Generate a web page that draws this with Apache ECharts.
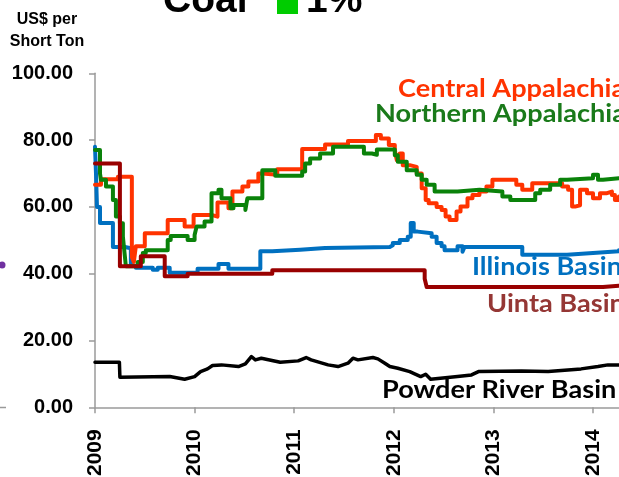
<!DOCTYPE html>
<html>
<head>
<meta charset="utf-8">
<script src="https://cdn.jsdelivr.net/npm/echarts@6/dist/echarts.min.js"></script>
<style>
  html, body { margin: 0; padding: 0; background: #ffffff; }
  #chart { width: 619px; height: 477px; }
</style>
</head>
<body>
<div id="chart"></div>
<script>
// Weekly spot coal prices, US$ per short ton.
// Each pair is [time in fractional years, price that holds from that week on].
const centralAppalachia = [
  [2009.00, 66.6], [2009.06, 68.3], [2009.23, 69.0], [2009.37, 45.0], [2009.39, 43.5],
  [2009.41, 48.2], [2009.50, 52.1], [2009.73, 56.1], [2009.90, 54.1], [2009.99, 57.6],
  [2010.17, 57.1], [2010.23, 61.3], [2010.34, 59.6], [2010.38, 64.6], [2010.48, 66.1],
  [2010.54, 67.6], [2010.64, 70.0], [2010.68, 69.6], [2010.83, 71.3], [2011.08, 77.3],
  [2011.31, 78.7], [2011.54, 79.7], [2011.82, 81.5], [2011.87, 80.5], [2011.95, 78.5],
  [2012.01, 77.0], [2012.03, 74.0], [2012.06, 76.0], [2012.09, 72.5], [2012.16, 72.0],
  [2012.23, 70.0], [2012.28, 65.6], [2012.32, 62.1], [2012.35, 61.1], [2012.43, 60.0],
  [2012.48, 59.1], [2012.52, 57.1], [2012.56, 56.1], [2012.63, 58.6], [2012.67, 60.1],
  [2012.74, 62.6], [2012.79, 63.6], [2012.86, 64.6], [2012.93, 66.1], [2012.99, 68.1],
  [2013.23, 66.6], [2013.29, 65.1], [2013.39, 67.1], [2013.69, 66.1], [2013.75, 65.1],
  [2013.79, 60.1], [2013.82, 60.5], [2013.87, 65.1], [2013.94, 64.1], [2014.00, 62.6],
  [2014.07, 64.1], [2014.14, 64.6], [2014.19, 63.6], [2014.22, 62.1], [2014.26, 63.1]
];

const northernAppalachia = [
  [2009.00, 77.0], [2009.05, 70.0], [2009.06, 68.1], [2009.11, 66.1], [2009.18, 62.1],
  [2009.21, 57.1], [2009.25, 55.1], [2009.28, 51.1], [2009.30, 45.2], [2009.31, 42.2],
  [2009.43, 43.5], [2009.48, 46.2], [2009.51, 47.0], [2009.73, 50.1], [2009.76, 51.3],
  [2009.93, 50.1], [2010.00, 51.6], [2010.02, 54.1], [2010.10, 55.6], [2010.17, 64.1],
  [2010.24, 65.1], [2010.27, 62.6], [2010.36, 59.6], [2010.39, 60.6], [2010.51, 59.1],
  [2010.53, 62.6], [2010.68, 71.0], [2010.81, 69.3], [2011.08, 70.6], [2011.11, 73.0],
  [2011.16, 74.5], [2011.26, 76.0], [2011.39, 78.0], [2011.70, 76.0], [2011.78, 75.6],
  [2011.83, 77.2], [2012.01, 75.5], [2012.04, 73.5], [2012.13, 71.0], [2012.23, 69.6],
  [2012.28, 68.1], [2012.33, 66.6], [2012.41, 64.6], [2012.64, 65.1], [2012.86, 64.6],
  [2013.09, 63.1], [2013.17, 62.1], [2013.42, 64.1], [2013.47, 65.1], [2013.57, 66.6],
  [2013.67, 68.1], [2013.74, 68.6], [2014.00, 69.6], [2014.05, 68.1], [2014.10, 68.6],
  [2014.26, 68.6]
];

const illinoisBasin = [
  [2009.00, 78.0], [2009.01, 70.0], [2009.02, 60.0], [2009.05, 55.2], [2009.18, 48.0],
  [2009.30, 47.6], [2009.36, 42.4], [2009.41, 41.8], [2009.58, 41.2], [2009.63, 41.8],
  [2009.75, 40.3], [2010.03, 41.5], [2010.24, 42.9], [2010.34, 41.5], [2010.66, 46.7],
  [2010.78, 47.2], [2011.06, 47.7], [2011.31, 48.0], [2011.96, 48.5], [2011.99, 49.2],
  [2012.06, 50.1], [2012.14, 51.1], [2012.17, 55.2], [2012.20, 52.6], [2012.24, 52.1],
  [2012.38, 51.1], [2012.43, 49.2], [2012.48, 48.2], [2012.51, 47.0], [2012.64, 48.2],
  [2012.69, 46.6], [2012.71, 48.0], [2013.29, 45.7], [2013.74, 46.2], [2014.00, 46.7],
  [2014.26, 47.0]
];

const uintaBasin = [
  [2009.00, 73.0], [2009.25, 42.2], [2009.46, 45.2], [2009.70, 39.2], [2009.93, 40.0],
  [2010.78, 41.0], [2012.31, 38.5], [2012.33, 36.0], [2014.10, 36.4], [2014.26, 36.4]
];

const powderRiverBasin = [
  [2009.00, 13.5], [2009.245, 13.5], [2009.25, 9.0], [2009.75, 9.2], [2009.90, 8.4],
  [2010.00, 9.2], [2010.06, 10.7], [2010.13, 11.5], [2010.18, 12.5], [2010.27, 12.7],
  [2010.44, 12.2], [2010.51, 13.0], [2010.57, 15.2], [2010.61, 14.2], [2010.67, 14.7],
  [2010.86, 13.5], [2011.04, 13.9], [2011.12, 14.9], [2011.17, 14.2], [2011.34, 12.7],
  [2011.44, 12.2], [2011.54, 13.2], [2011.59, 14.7], [2011.64, 14.2], [2011.79, 14.9],
  [2011.84, 14.5], [2011.91, 13.2], [2011.96, 12.2], [2012.04, 11.7], [2012.16, 10.7],
  [2012.27, 9.2], [2012.32, 9.9], [2012.37, 8.4], [2012.64, 9.2], [2012.78, 9.7],
  [2012.85, 10.7], [2013.28, 10.9], [2013.55, 10.7], [2013.88, 11.5], [2014.05, 12.2],
  [2014.15, 12.7], [2014.26, 12.7]
];

const yearRange = [2009, 2015];
const priceRange = [0, 100];

const titleText = 'Coal';
const changeText = '1%';
const unitLines = ['US$ per', 'Short Ton'];

const AXIS_GRAY = '#9a9a9a';
const LABEL_FONT = 'Lato, "Open Sans", sans-serif';
const AXIS_FONT = '"Liberation Sans", Arial, sans-serif';

function lineSeries(name, data, color, width, step, z) {
  return {
    name: name,
    type: 'line',
    data: data,
    step: step,
    showSymbol: false,
    symbol: 'none',
    silent: true,
    z: z,
    lineStyle: { color: color, width: width, join: 'round', cap: 'round' }
  };
}

// Series name drawn beside its line; slightly widened lettering.
function seriesLabel(text, x, y, color) {
  return {
    type: 'text',
    x: x,
    y: y,
    scaleX: 1.13,
    scaleY: 1,
    silent: true,
    style: {
      text: text,
      fill: color,
      font: 'bold 24px ' + LABEL_FONT,
      align: 'left',
      verticalAlign: 'top'
    }
  };
}

const chart = echarts.init(document.getElementById('chart'), null, { renderer: 'canvas' });

chart.setOption({
  animation: false,
  backgroundColor: '#ffffff',
  grid: {
    left: 95,
    right: -73.6,
    top: 73.3,
    bottom: 69.7,
    containLabel: false,
    outerBoundsMode: 'none'
  },
  xAxis: {
    type: 'value',
    min: yearRange[0],
    max: yearRange[1],
    interval: 1,
    axisLine: { show: true, onZero: false, lineStyle: { color: AXIS_GRAY, width: 1.5 } },
    axisTick: { show: true, length: 6, lineStyle: { color: AXIS_GRAY, width: 1.5 } },
    splitLine: { show: false },
    axisLabel: {
      rotate: 90,
      margin: 22,
      color: '#000000',
      fontFamily: AXIS_FONT,
      fontWeight: 'bold',
      fontSize: 21,
      formatter: function (v) { return String(v); }
    }
  },
  yAxis: {
    type: 'value',
    min: priceRange[0],
    max: priceRange[1],
    interval: 20,
    axisLine: { show: true, lineStyle: { color: AXIS_GRAY, width: 1.5 } },
    axisTick: { show: true, length: 6, lineStyle: { color: AXIS_GRAY, width: 1.5 } },
    splitLine: { show: false },
    axisLabel: {
      margin: 22,
      color: '#000000',
      fontFamily: AXIS_FONT,
      fontWeight: 'bold',
      fontSize: 20,
      formatter: function (v) { return v.toFixed(2); }
    }
  },
  series: [
    lineSeries('Powder River Basin', powderRiverBasin, '#000000', 3.5, false, 2),
    lineSeries('Illinois Basin', illinoisBasin, '#0070C0', 4, 'end', 3),
    lineSeries('Central Appalachia', centralAppalachia, '#FF3300', 4, 'end', 4),
    lineSeries('Northern Appalachia', northernAppalachia, '#0A820A', 4, 'end', 5),
    lineSeries('Uinta Basin', uintaBasin, '#990000', 4, 'end', 6)
  ],
  graphic: [
    // headline with the change marker
    { type: 'text', left: 163, top: -18, silent: true,
      style: { text: titleText, fill: '#000000', font: 'bold 39px ' + AXIS_FONT } },
    { type: 'rect', shape: { x: 277, y: -10, width: 21, height: 24 }, silent: true,
      style: { fill: '#00CC00' } },
    { type: 'text', left: 306, top: -18, silent: true,
      style: { text: changeText, fill: '#000000', font: 'bold 39px ' + AXIS_FONT } },
    // unit caption above the value axis
    { type: 'text', x: 47, y: 19.5, silent: true,
      style: { text: unitLines[0], fill: '#000000', font: 'bold 16px ' + AXIS_FONT,
               align: 'center', verticalAlign: 'middle' } },
    { type: 'text', x: 47, y: 41.5, silent: true,
      style: { text: unitLines[1], fill: '#000000', font: 'bold 16px ' + AXIS_FONT,
               align: 'center', verticalAlign: 'middle' } },
    // series names beside their lines
    seriesLabel('Central Appalachia', 398, 77.6, '#FF3300'),
    seriesLabel('Northern Appalachia', 375, 102, '#1A7A1A'),
    seriesLabel('Illinois Basin', 472, 255.3, '#0070C0'),
    seriesLabel('Uinta Basin', 487, 292.3, '#953735'),
    seriesLabel('Powder River Basin', 382, 378.6, '#000000'),
    // edge of the neighbouring panel
    { type: 'line', shape: { x1: 0, y1: 407.5, x2: 6, y2: 407.5 }, silent: true,
      style: { stroke: AXIS_GRAY, lineWidth: 1.5 } },
    { type: 'circle', shape: { cx: 2, cy: 265, r: 3.5 }, silent: true,
      style: { fill: '#7030A0' } }
  ]
});
</script>
</body>
</html>
